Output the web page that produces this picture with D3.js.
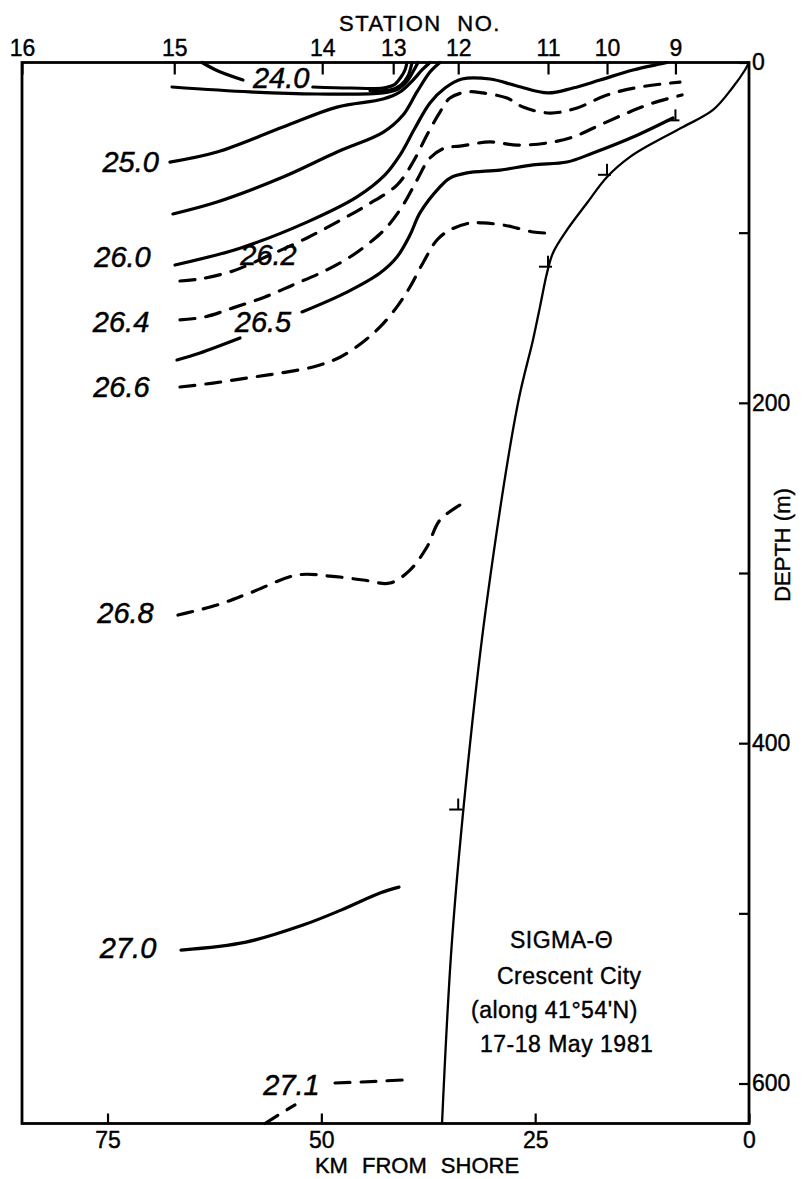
<!DOCTYPE html>
<html><head><meta charset="utf-8">
<script src="https://cdn.jsdelivr.net/npm/d3@7"></script>
<style>
body{margin:0;background:#fff}
svg{display:block}
text{font-family:"Liberation Sans",Arial,sans-serif;fill:#000}
</style>
</head><body>
<svg id="chart" width="805" height="1179"></svg>
<script>
// ---------------- DATA ----------------
const stationNames = ["16","15","14","13","12","11","10","9"];
const stationKm    = [85, 67.2, 49.9, 41.6, 34.0, 23.5, 16.6, 8.6];
const castKm       = [8.6, 16.6, 23.5, 34.0];
const castDepth    = [34, 66, 120, 439];
const kmTicks      = [75, 50, 25, 0];
const depthTicks   = [0, 100, 200, 300, 400, 500, 600];
const depthLabels  = [0, 200, 400, 600];

// contour segments: [km from shore, depth m]
const sigma240a = [[63.95,0],[62.08,5.0],[59.16,10.3]];
const sigma240b = [[51.0,14.4],[46.65,15.0],[42.79,15.0],[41.51,13.2],[40.69,8.5],[40.22,4.4],[39.99,0]];
const sigma245a = [[44.31,16.5],[41.97,16.2],[40.69,13.2],[39.87,7.9],[39.40,0]];
const sigma245b = [[67.46,14.4],[58.34,17.3],[50.51,18.5],[42.79,17.9],[41.04,15.6],[39.87,10.3],[39.17,4.4],[38.70,0]];
const sigma250  = [[67.70,58.5],[62.20,52.6],[54.48,37.9],[48.17,26.2],[42.79,21.5],[40.80,17.3],[39.28,10.3],[38.23,4.4],[37.30,0]];
const sigma255  = [[67.35,89.0],[62.20,82.0],[54.48,67.3],[48.17,52.6],[42.79,41.1],[40.45,30.9],[38.82,17.3],[37.30,5.6],[36.13,0]];
const sigma260  = [[67.11,119.0],[59.51,109.1],[51.68,93.8],[45.83,79.0],[42.56,66.1],[40.80,54.4],[39.05,38.5],[37.30,23.8],[35.54,15.0],[33.56,9.7],[30.28,9.7],[27.12,13.8],[23.50,17.9],[20.58,15.0],[17.42,10.3],[13.56,4.4],[10.41,0.9],[9.59,0]];
const sigma262  = [[66.53,128.4],[64.19,127.2],[60.33,122.5],[56.00,113.1],[51.68,103.1],[48.17,93.8],[44.66,83.8],[41.16,72.0],[39.28,58.5],[37.65,42.6],[36.13,29.1],[34.96,20.9],[32.97,17.3],[31.10,17.9],[28.29,20.9],[26.42,26.2],[23.26,29.7],[20.10,26.7],[16.60,19.1],[12.74,14.4],[8.07,11.5]];
const sigma264  = [[66.53,151.3],[63.61,149.5],[60.33,144.2],[56.59,137.8],[53.32,130.7],[49.81,123.0],[46.65,114.3],[43.96,104.3],[42.32,96.6],[40.45,83.8],[38.82,69.1],[37.30,56.1],[35.54,50.2],[33.79,49.1],[30.28,46.7],[27.12,48.5],[23.62,47.3],[20.58,43.8],[17.42,36.7],[14.26,29.7],[11.22,23.8],[7.83,19.1]];
const sigma265a = [[66.88,174.8],[64.19,170.7],[59.51,161.9]];
const sigma265b = [[52.26,146.6],[47.00,134.9],[43.14,123.7],[41.16,114.3],[39.64,101.4],[38.47,88.4],[36.13,73.1],[34.96,67.9],[32.97,64.9],[29.11,63.2],[25.25,60.2],[21.28,58.5],[18.24,53.2],[13.56,43.8],[8.89,32.6]];
const sigma266  = [[66.53,190.7],[62.67,188.4],[58.69,185.4],[54.83,182.5],[50.98,178.9],[47.82,173.2],[45.13,164.2],[43.14,155.4],[41.16,143.6],[39.64,131.9],[38.12,117.8],[36.48,104.3],[34.96,98.4],[32.62,94.3],[31.10,94.3],[28.76,95.5],[27.12,97.3],[25.25,99.6],[23.85,100.2]];
const sigma268  = [[66.76,324.7],[62.20,318.8],[58.34,311.7],[52.85,301.2],[48.99,301.8],[45.13,304.1],[41.97,305.9],[39.64,298.3],[37.65,284.7],[36.13,268.9],[33.21,258.3]];
const sigma270  = [[66.41,521.6],[58.81,516.9],[52.15,506.9],[47.70,498.1],[43.14,488.1],[40.92,484.6]];
const sigma271a = [[48.40,599.7],[45.25,599.1],[40.45,597.9]];
const sigma271b = [[56.59,623.5],[54.83,617.9],[53.08,612.6]];

const bottomProfile = [[0,0],[0.47,4.4],[1.87,14.4],[4.21,27.9],[7.72,37.9],[11.22,47.3],[13.91,55.5],[16.60,67.3],[18.94,82.6],[21.28,98.4],[22.92,111.9],[23.62,123.7],[24.44,143.6],[25.25,162.9],[27.01,200.1],[30.63,315.9],[32.62,400.5],[34.72,515.7],[35.89,623.5]];

const contourLevels   = [24.0, 24.0, 24.5, 24.5, 25.0, 25.5, 26.0, 26.2, 26.4, 26.5, 26.5, 26.6, 26.8, 27.0, 27.1, 27.1];
const contourSegments = [sigma240a, sigma240b, sigma245a, sigma245b, sigma250, sigma255, sigma260, sigma262, sigma264, sigma265a, sigma265b, sigma266, sigma268, sigma270, sigma271a, sigma271b];

const labelText  = ["24.0","25.0","26.0","26.2","26.4","26.5","26.6","26.8","27.0","27.1"];
const labelKm    = [54.7, 72.3, 73.25, 56.18, 73.42, 56.82, 73.37, 72.9, 72.6, 53.49];
const labelDepth = [15.0, 64.3, 120.2, 119.0, 158.4, 158.4, 196.6, 329.4, 526.3, 606.8];

const captionLines = ["SIGMA-\u0398", "Crescent City", "(along 41\u00b054'N)", "17-18 May 1981"];

// ---------------- CHART ----------------
const svg = d3.select("#chart");
const x = d3.scaleLinear().domain([85, 0]).range([22, 749]);
const y = d3.scaleLinear().domain([0, 623.5]).range([62.5, 1123.5]);

const line = d3.line().x(d => x(d[0])).y(d => y(d[1])).curve(d3.curveCatmullRom.alpha(0.5));

// contours
const isDashed = lv => Math.round(lv * 10) % 5 !== 0;
svg.append("g").selectAll("path").data(contourSegments).join("path")
  .attr("d", line)
  .attr("fill", "none")
  .attr("stroke", "#000")
  .attr("stroke-width", 3.2)
  .attr("stroke-linecap", "round")
  .attr("stroke-dasharray", (d, i) => isDashed(contourLevels[i]) ? "15,11" : null);

// bottom profile
svg.append("path").datum(bottomProfile)
  .attr("d", line).attr("fill", "none").attr("stroke", "#000").attr("stroke-width", 2.3);

// cast bottom markers
const casts = castKm.map((k, i) => [k, castDepth[i]]);
const cg = svg.append("g").attr("stroke", "#000").attr("stroke-width", 2);
cg.selectAll("line.v").data(casts).join("line").attr("class", "v")
  .attr("x1", d => x(d[0])).attr("x2", d => x(d[0]))
  .attr("y1", d => y(d[1]) - 11).attr("y2", d => y(d[1]));
cg.selectAll("line.h").data(casts).join("line").attr("class", "h")
  .attr("x1", d => x(d[0]) - 9).attr("x2", d => x(d[0]) + 4)
  .attr("y1", d => y(d[1])).attr("y2", d => y(d[1]));

// frame
svg.append("rect")
  .attr("x", x(85)).attr("y", y(0))
  .attr("width", x(0) - x(85)).attr("height", y(623.5) - y(0))
  .attr("fill", "none").attr("stroke", "#000").attr("stroke-width", 2.8);

// axes
function styleAxis(g, fs) {
  g.select(".domain").remove();
  g.selectAll(".tick line").attr("stroke", "#000").attr("stroke-width", 2.2);
  g.selectAll(".tick text").attr("font-size", fs).attr("font-family", "Liberation Sans, Arial, sans-serif")
    .attr("fill", "#000").attr("stroke", "#000").attr("stroke-width", 0.4);
}
const topAxis = d3.axisTop(x).tickValues(stationKm)
  .tickFormat((d, i) => stationNames[i]).tickSizeInner(-12).tickSizeOuter(0).tickPadding(7);
svg.append("g").attr("transform", `translate(0,${y(0)})`).call(topAxis).call(g => styleAxis(g, 23));

const bottomAxis = d3.axisBottom(x).tickValues(kmTicks)
  .tickFormat(d3.format("d")).tickSizeInner(-10).tickSizeOuter(0).tickPadding(8);
svg.append("g").attr("transform", `translate(0,${y(623.5)})`).call(bottomAxis).call(g => styleAxis(g, 23));

const rightAxis = d3.axisRight(y).tickValues(depthTicks)
  .tickFormat(d => depthLabels.includes(d) ? d : "").tickSizeInner(-10).tickSizeOuter(0).tickPadding(3);
svg.append("g").attr("transform", `translate(${x(0)},0)`).call(rightAxis).call(g => styleAxis(g, 23));

// axis titles
const titleStyle = t => t.attr("font-size", 22).attr("stroke", "#000").attr("stroke-width", 0.4);
svg.append("text").attr("x", 420).attr("y", 31).attr("text-anchor", "middle")
  .attr("letter-spacing", 1.5).attr("word-spacing", 8).call(titleStyle).text("STATION NO.");
svg.append("text").attr("x", 417).attr("y", 1173).attr("text-anchor", "middle")
  .attr("word-spacing", 8).call(titleStyle).text("KM FROM SHORE");
svg.append("text").attr("transform", "translate(790,545) rotate(-90)").attr("text-anchor", "middle")
  .call(titleStyle).text("DEPTH (m)");

// contour labels
svg.append("g").selectAll("text").data(labelText).join("text")
  .attr("x", (d, i) => x(labelKm[i])).attr("y", (d, i) => y(labelDepth[i]))
  .attr("text-anchor", "middle").attr("font-size", 29).attr("font-style", "italic")
  .attr("stroke", "#000").attr("stroke-width", 0.5)
  .text(d => d);

// caption
const capX = [510, 497, 471, 480];
const capY = [948, 984, 1018, 1052];
svg.append("g").selectAll("text").data(captionLines).join("text")
  .attr("x", (d, i) => capX[i]).attr("y", (d, i) => capY[i])
  .attr("font-size", 23).attr("letter-spacing", 0.5)
  .attr("stroke", "#000").attr("stroke-width", 0.4).text(d => d);
</script>
</body></html>
